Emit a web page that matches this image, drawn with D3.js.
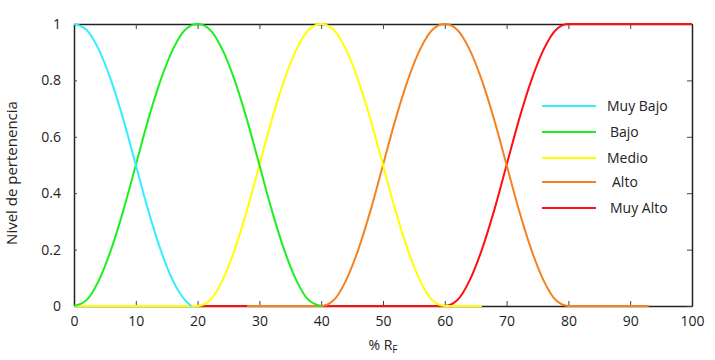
<!DOCTYPE html>
<html>
<head>
<meta charset="utf-8">
<script src="https://cdn.jsdelivr.net/npm/d3@7"></script>
<style>
  body { margin: 0; background: #fff; }
  text { font-family: "Open Sans", "Liberation Sans", sans-serif; }
</style>
</head>
<body>
<svg width="715" height="360"></svg>
<script>
// membership functions (x = % RF, y = membership level)
const muyBajoX = [0, 2, 4, 6, 8, 10, 12, 14, 16, 18, 19];
const muyBajoY = [1, 0.98, 0.91, 0.8, 0.66, 0.5, 0.34, 0.2, 0.09, 0.02, 0];

const bajoX = [0, 2, 4, 6, 8, 10, 12, 14, 16, 18, 20, 22, 24, 26, 28, 30, 32, 34, 36, 38, 40];
const bajoY = [0, 0.02, 0.09, 0.2, 0.34, 0.5, 0.66, 0.8, 0.91, 0.98, 1, 0.98, 0.91, 0.8, 0.66, 0.5, 0.34, 0.2, 0.09, 0.02, 0];

const medioX = [0, 20, 22, 24, 26, 28, 30, 32, 34, 36, 38, 40, 42, 44, 46, 48, 50, 52, 54, 56, 58, 60, 66];
const medioY = [0, 0, 0.02, 0.09, 0.2, 0.34, 0.5, 0.66, 0.8, 0.91, 0.98, 1, 0.98, 0.91, 0.8, 0.66, 0.5, 0.34, 0.2, 0.09, 0.02, 0, 0];

const altoX = [28, 40, 42, 44, 46, 48, 50, 52, 54, 56, 58, 60, 62, 64, 66, 68, 70, 72, 74, 76, 78, 80, 93];
const altoY = [0, 0, 0.02, 0.09, 0.2, 0.34, 0.5, 0.66, 0.8, 0.91, 0.98, 1, 0.98, 0.91, 0.8, 0.66, 0.5, 0.34, 0.2, 0.09, 0.02, 0, 0];

const muyAltoX = [20, 60, 62, 64, 66, 68, 70, 72, 74, 76, 78, 80, 100];
const muyAltoY = [0, 0, 0.02, 0.09, 0.2, 0.34, 0.5, 0.66, 0.8, 0.91, 0.98, 1, 1];

const names = ['Muy Bajo', 'Bajo', 'Medio', 'Alto', 'Muy Alto'];
const colors = ['#33eeff', '#1ef01e', '#ffff00', '#f5821f', '#ff1010'];
const xTicks = [0, 10, 20, 30, 40, 50, 60, 70, 80, 90, 100];
const yTicks = [0, 0.2, 0.4, 0.6, 0.8, 1];

const series = [
  [muyBajoX, muyBajoY], [bajoX, bajoY], [medioX, medioY], [altoX, altoY], [muyAltoX, muyAltoY]
].map(([xs, ys], i) => ({ name: names[i], color: colors[i], pts: xs.map((x, j) => [x, ys[j]]) }));

const svg = d3.select('svg');
const margin = { top: 24, right: 23, bottom: 54, left: 74 };
const innerWidth = +svg.attr('width') - margin.left - margin.right;
const innerHeight = +svg.attr('height') - margin.top - margin.bottom;

const xScale = d3.scaleLinear().domain([0, 100]).range([0, innerWidth]);
const yScale = d3.scaleLinear().domain([0, 1]).range([innerHeight, 0]);

const g = svg.append('g').attr('transform', `translate(${margin.left},${margin.top})`);

// frame + inward ticks
const styleAxis = sel => {
  sel.select('.domain').attr('stroke', '#222').attr('stroke-width', 1.5);
  sel.selectAll('.tick line').attr('stroke', '#444');
  sel.selectAll('text').attr('font-size', 14).attr('fill', '#222');
};
g.append('g').attr('transform', `translate(0,${innerHeight})`)
  .call(d3.axisBottom(xScale).tickValues(xTicks).tickSize(-5).tickPadding(10).tickSizeOuter(0))
  .call(styleAxis);
g.append('g')
  .call(d3.axisTop(xScale).tickValues(xTicks).tickSize(-5).tickSizeOuter(0))
  .call(styleAxis)
  .call(a => a.selectAll('.tick text').remove());
g.append('g')
  .call(d3.axisLeft(yScale).tickValues(yTicks).tickSize(-3).tickPadding(13).tickSizeOuter(0)
    .tickFormat(d => d === 0 || d === 1 ? d : d.toFixed(1)))
  .call(styleAxis);
g.append('g').attr('transform', `translate(${innerWidth},0)`)
  .call(d3.axisRight(yScale).tickValues(yTicks).tickSize(-5).tickSizeOuter(0))
  .call(styleAxis)
  .call(a => a.selectAll('.tick text').remove());

const line = d3.line()
  .x(d => xScale(d[0]))
  .y(d => yScale(d[1]))
  .curve(d3.curveMonotoneX);

g.selectAll('path.curve').data(series.slice().reverse())
  .enter().append('path')
    .attr('class', 'curve')
    .attr('fill', 'none')
    .attr('stroke', d => d.color)
    .attr('stroke-width', 2)
    .attr('d', d => line(d.pts));

// legend
const legend = svg.append('g').attr('transform', 'translate(542,106)');
const lg = legend.selectAll('g').data(series).enter().append('g')
  .attr('transform', (d, i) => `translate(0,${[0, 26, 52, 76, 102][i]})`);
lg.append('line').attr('x1', 0).attr('x2', 54)
  .attr('stroke', d => d.color).attr('stroke-width', 2);
lg.append('text')
  .attr('x', (d, i) => [65, 68, 65, 70, 68][i])
  .attr('dy', '0.35em')
  .attr('font-size', 14)
  .attr('fill', '#222')
  .text(d => d.name);

// axis titles
svg.append('text')
  .attr('transform', 'translate(17,173) rotate(-90)')
  .attr('text-anchor', 'middle')
  .attr('font-size', 15)
  .attr('fill', '#222')
  .text('Nivel de pertenencia');

const xl = svg.append('text')
  .attr('x', 383).attr('y', 350)
  .attr('text-anchor', 'middle')
  .attr('font-size', 14)
  .attr('fill', '#222');
xl.append('tspan').text('% R');
xl.append('tspan').attr('font-size', 10).attr('dy', 3).text('F');
</script>
</body>
</html>
